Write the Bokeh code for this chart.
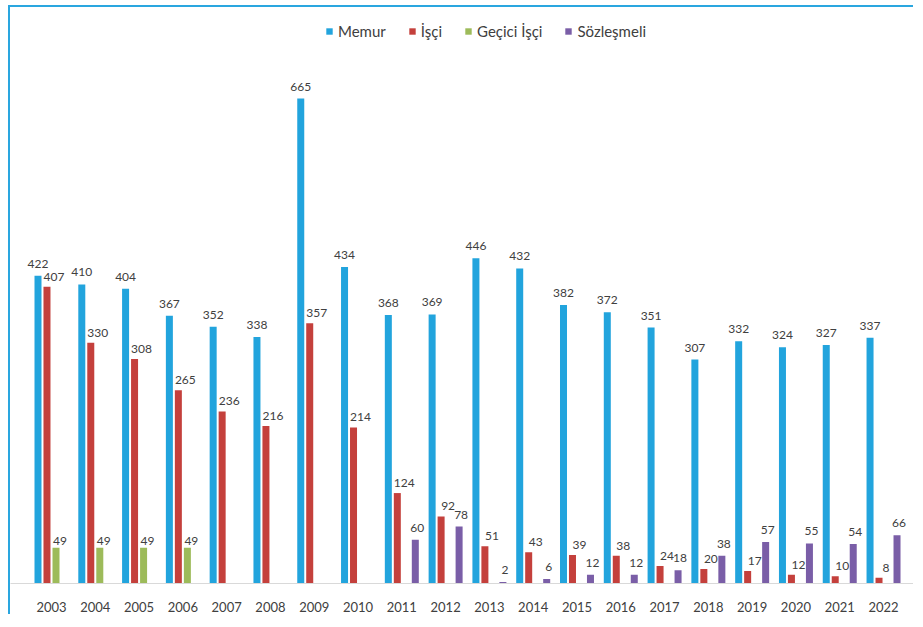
from bokeh.plotting import figure
from bokeh.models import ColumnDataSource, Range1d, FixedTicker, Legend, LegendItem
from bokeh.core.properties import value
from bokeh.embed import file_html
from bokeh.resources import INLINE

years = list(range(2003, 2023))
memur = [422, 410, 404, 367, 352, 338, 665, 434, 368, 369, 446, 432, 382, 372, 351, 307, 332, 324, 327, 337]
isci = [407, 330, 308, 265, 236, 216, 357, 214, 124, 92, 51, 43, 39, 38, 24, 20, 17, 12, 10, 8]
gecici_years = [2003, 2004, 2005, 2006]
gecici = [49, 49, 49, 49]
sozlesmeli_years = list(range(2011, 2023))
sozlesmeli = [60, 78, 2, 6, 12, 12, 18, 38, 57, 55, 54, 66]

series_names = ["Memur", "İşçi", "Geçici İşçi", "Sözleşmeli"]
colors = ["#22a4dd", "#c4403c", "#9dbb5a", "#7a5ea7"]

FONT = "Lato"
TXT = "#404040"

p = figure(width=905, height=609, output_backend="svg", toolbar_location=None,
           x_range=Range1d(2002.064, 2022.73), y_range=Range1d(0, 789.8),
           y_axis_location=None, min_border_left=0, min_border_right=0,
           min_border_top=0, min_border_bottom=33)
p.styles = {"margin-left": "8px", "margin-top": "5px",
            "border-top": "2px solid #2aa6df", "border-left": "2px solid #2aa6df"}
p.outline_line_color = None
p.xgrid.visible = False
p.ygrid.visible = False
p.background_fill_color = "white"
p.border_fill_color = "white"

p.xaxis.ticker = FixedTicker(ticks=years)
p.xaxis.axis_line_color = "#d9d9d9"
p.xaxis.axis_line_width = 1
p.xaxis.major_tick_line_color = None
p.xaxis.minor_tick_line_color = None
p.xaxis.major_label_text_font = FONT
p.xaxis.major_label_text_font_size = "13px"
p.xaxis.major_label_text_color = TXT
p.xaxis.major_label_standoff = 12

bw = 0.16
offs = [-0.308, -0.103, 0.103, 0.308]
xs_list = [years, years, gecici_years, sozlesmeli_years]
vals_list = [memur, isci, gecici, sozlesmeli]
lab_dx = [0, 7, 4, 2]
lab_dy = [-12, -10, -7, -12]

items = []
for name, col, xs, vals, off, dx, dy in zip(series_names, colors, xs_list, vals_list, offs, lab_dx, lab_dy):
    src = ColumnDataSource(dict(x=[x + off for x in xs], top=vals, lab=[str(v) for v in vals]))
    r = p.vbar(x="x", top="top", width=bw, source=src, fill_color=col, line_color=None)
    p.text(x="x", y="top", text="lab", source=src, x_offset=dx, y_offset=dy,
           text_align="center", text_baseline="alphabetic",
           text_font=value(FONT), text_font_size="12px", text_color=TXT)
    items.append(LegendItem(label=name, renderers=[r]))

legend = Legend(items=items, orientation="horizontal", location=(315, 543),
                glyph_width=8, glyph_height=8, label_text_font=FONT,
                label_text_font_size="15px", label_text_color=TXT,
                border_line_color=None, background_fill_alpha=0,
                spacing=22, label_standoff=5, margin=0, padding=0)
p.add_layout(legend)

open("out.html", "w").write(file_html(p, INLINE))
